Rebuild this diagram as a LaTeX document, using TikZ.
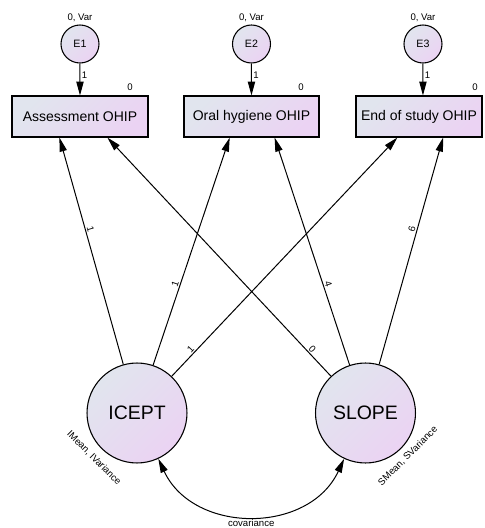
\documentclass[tikz,border=0pt]{standalone}
\usepackage{fontspec}
\setmainfont{Liberation Sans}
\usepackage{xcolor}
\usepackage{tikz}
\usetikzlibrary{calc, arrows.meta, shapes}

\definecolor{amosbleu}{HTML}{E1E5EE}
\definecolor{amosrose}{HTML}{EBD3F3}

\begin{document}
\begin{tikzpicture}[scale = 0.026367]
		\tikzstyle{fleche}=[-{Triangle[length=10.5pt,width=5.5pt]},line width=0.75pt]
		\tikzstyle{fleches}=[{Triangle[length=10.5pt,width=5.5pt]}-{Triangle[length=10.5pt,width=5.5pt]},line width=0.75pt]
		\tikzstyle{degrade}=[shading=axis,left color=amosbleu,right color=amosrose,shading angle=45]
		\tikzstyle{boite}=[draw,degrade,line width=0.8pt,minimum height=30.75pt,inner sep=0pt,font=\fontsize{10.5}{12}\selectfont]
		\tikzstyle{erreur}=[circle,draw,degrade,line width=0.8pt,minimum size=28.5pt,inner sep=0pt,font=\fontsize{8}{9}\selectfont]
		\tikzstyle{latente}=[circle,draw,degrade,line width=0.8pt,minimum size=75pt,inner sep=0pt,font=\fontsize{14.6}{16}\selectfont]
		\tikzstyle{petit}=[inner sep=1pt,font=\fontsize{7.2}{8}\selectfont]
		\useasboundingbox (0,0) rectangle (485,528);

		% observed variables
		\node[boite,minimum width=102pt] (b1) at (80,411.5) {Assessment OHIP};
		\node[boite,minimum width=101.25pt] (b2) at (251.5,411.5) {Oral hygiene OHIP};
		\node[boite,minimum width=94.5pt] (b3) at (419,411.5) {End of study OHIP};
		\node[petit] (m1) at (130,441) {0};
		\node[petit] (m2) at (301,441) {0};
		\node[petit] (m3) at (475,441) {0};

		% errors
		\node[erreur] (e1) at (80,484) {E1};
		\node[erreur] (e2) at (251.5,484) {E2};
		\node[erreur] (e3) at (423,484) {E3};
		\node[petit,above=1pt] (v1) at (e1.north) {0, Var};
		\node[petit,above=1pt] (v2) at (e2.north) {0, Var};
		\node[petit,above=1pt] (v3) at (e3.north) {0, Var};
		\draw[fleche] (e1) -- (e1 |- b1.north) node[petit,right,pos=0.35]{1};
		\draw[fleche] (e2) -- (e2 |- b2.north) node[petit,right,pos=0.35]{1};
		\draw[fleche] (e3) -- (e3 |- b3.north) node[petit,right,pos=0.35]{1};

		% growth factors
		\node[latente] (icept) at (137,115) {ICEPT};
		\node[latente] (slope) at (365.5,115) {SLOPE};
		\node[petit,rotate=-45] (imoy) at ($(icept)+(-43,-45)$) {IMean, IVariance};
		\node[petit,rotate=45] (smoy) at ($(slope)+(42.5,-43)$) {SMean, SVariance};

		\draw[fleche] (icept) -- ($(b1.south west)!0.35!(b1.south east)$) node[petit,sloped,above,pos=0.59]{1};
		\draw[fleche] (icept) -- ($(b2.south west)!0.34!(b2.south east)$) node[petit,sloped,above,pos=0.35]{1};
		\draw[fleche] (icept) -- ($(b3.south west)!0.33!(b3.south east)$) node[petit,sloped,above,pos=0.1]{1};
		\draw[fleche] (slope) -- ($(b1.south west)!0.70!(b1.south east)$) node[petit,sloped,above,pos=0.1]{0};
		\draw[fleche] (slope) -- ($(b2.south west)!0.67!(b2.south east)$) node[petit,sloped,above,pos=0.35]{4};
		\draw[fleche] (slope) -- ($(b3.south west)!0.69!(b3.south east)$) node[petit,sloped,above,pos=0.59]{6};

		\draw[fleches] (icept.-65) .. controls (193.6,-6.4) and (308.9,-6.4) .. (slope.-115) node[petit,below=2pt,pos=0.5]{covariance};
\end{tikzpicture}
\end{document}
